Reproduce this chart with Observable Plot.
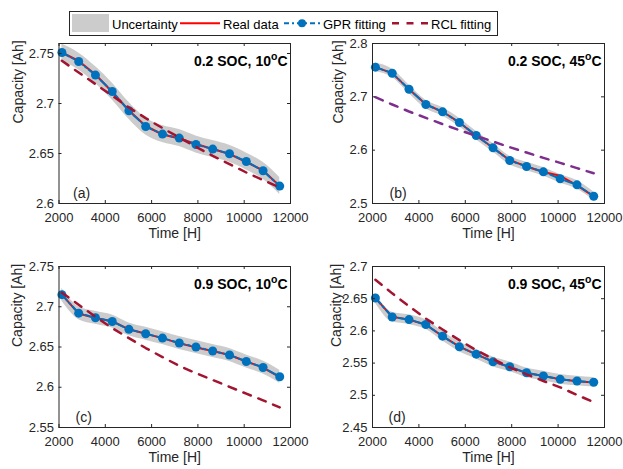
<!DOCTYPE html>
<html><head><meta charset="utf-8">
<script src="https://cdn.jsdelivr.net/npm/d3@7"></script>
<script src="https://cdn.jsdelivr.net/npm/@observablehq/plot@0.6"></script>
<style>
html,body{margin:0;padding:0;background:#fff;}
#wrap{position:relative;width:623px;height:469px;overflow:hidden;font-family:"Liberation Sans",Arial,sans-serif;}
.panel{position:absolute;}
</style></head><body>
<div id="wrap">
<svg id="legend" width="623" height="40" style="position:absolute;left:0;top:0" font-family="Liberation Sans, Arial, sans-serif" font-size="13" fill="#000">
<rect x="69.5" y="11.5" width="428" height="24" fill="#fff" stroke="#262626"/>
<rect x="72" y="14" width="37" height="18" fill="#cccccc"/>
<text x="112" y="28.5">Uncertainty</text>
<line x1="180" x2="220" y1="23.3" y2="23.3" stroke="#ff0000" stroke-width="2"/>
<text x="223" y="28.5">Real data</text>
<line x1="284" x2="321" y1="23.3" y2="23.3" stroke="#0072BD" stroke-width="2" stroke-dasharray="5,3,2,3"/>
<circle cx="302" cy="23.3" r="4" fill="#0072BD"/>
<text x="323" y="28.5">GPR fitting</text>
<line x1="392" x2="428" y1="23.3" y2="23.3" stroke="#A2142F" stroke-width="2.5" stroke-dasharray="7,7.5"/>
<text x="431" y="28.5">RCL fitting</text>
</svg>
</div>
<script>
const FONT = "'Liberation Sans', Arial, sans-serif";

// Time axis [H]
const time = [2125, 2850, 3575, 4300, 5020, 5745, 6470, 7195, 7915, 8640, 9365, 10090, 10815, 11535];
const xTicks = [2000, 4000, 6000, 8000, 10000, 12000];

// (a) 0.2 SOC, 10°C
const realA = [2.751, 2.7425, 2.729, 2.7115, 2.693, 2.6775, 2.669, 2.665, 2.6595, 2.6545, 2.6495, 2.6415, 2.633, 2.6175];
const gprA  = [2.751, 2.742, 2.7284, 2.712, 2.6927, 2.677, 2.6694, 2.6654, 2.659, 2.6544, 2.6497, 2.642, 2.6327, 2.6174];
const rclA  = [2.7427, 2.731, 2.7194, 2.7077, 2.696, 2.6854, 2.6754, 2.666, 2.6567, 2.6477, 2.6394, 2.631, 2.6234, 2.616];
const yTicksA = [2.6, 2.65, 2.7, 2.75];

// (b) 0.2 SOC, 45°C
const realB = [2.7556, 2.7445, 2.714, 2.686, 2.672, 2.652, 2.627, 2.6045, 2.581, 2.5695, 2.559, 2.552, 2.534, 2.5135];
const gprB  = [2.7556, 2.7443, 2.7143, 2.6856, 2.6719, 2.6519, 2.6275, 2.6044, 2.5806, 2.5694, 2.5594, 2.5463, 2.535, 2.5137];
const rclB  = [2.6993, 2.6856, 2.6725, 2.6606, 2.6488, 2.6375, 2.6269, 2.6162, 2.6056, 2.5956, 2.5856, 2.5762, 2.5663, 2.5568];
const yTicksB = [2.5, 2.6, 2.7, 2.8];

// (c) 0.9 SOC, 10°C
const realC = [2.715, 2.6915, 2.686, 2.682, 2.672, 2.6665, 2.661, 2.6545, 2.6495, 2.645, 2.64, 2.632, 2.6245, 2.6125];
const gprC  = [2.715, 2.692, 2.6863, 2.6817, 2.6719, 2.6665, 2.6611, 2.6549, 2.65, 2.6451, 2.6401, 2.632, 2.6246, 2.613];
const rclC  = [2.7175, 2.7025, 2.6875, 2.6735, 2.661, 2.6487, 2.6375, 2.6265, 2.6175, 2.609, 2.6005, 2.592, 2.5837, 2.575];
const yTicksC = [2.55, 2.6, 2.65, 2.7, 2.75];

// (d) 0.9 SOC, 45°C
const realD = [2.651, 2.622, 2.6175, 2.6095, 2.592, 2.5755, 2.5635, 2.5525, 2.544, 2.5345, 2.53, 2.525, 2.522, 2.52];
const gprD  = [2.651, 2.6216, 2.6176, 2.6099, 2.5918, 2.5752, 2.5639, 2.552, 2.5443, 2.535, 2.5299, 2.5248, 2.5222, 2.5202];
const rclD  = [2.6794, 2.6583, 2.6382, 2.6191, 2.6021, 2.5856, 2.5701, 2.5562, 2.5433, 2.5325, 2.5222, 2.5124, 2.5006, 2.4893];
const yTicksD = [2.45, 2.5, 2.55, 2.6, 2.65, 2.7];

// GPR uncertainty half-width [Ah]
const bandHalf = [0.0085, 0.008, 0.008, 0.0075];

const panels = [
  {tag:"(a)", title:"0.2 SOC, 10°C", real:realA, gpr:gprA, rcl:rclA, yTicks:yTicksA, yDomain:[2.6, 2.76], band:bandHalf[0], rclColor:"#A2142F",
   left:0, top:30, width:311, ml:58.5, mr:21, mt:13, innerH:160, mb:40, ylabOff:45.5, tagDx:14},
  {tag:"(b)", title:"0.2 SOC, 45°C", real:realB, gpr:gprB, rcl:rclB, yTicks:yTicksB, yDomain:[2.5, 2.8], band:bandHalf[1], rclColor:"#7E2F8E",
   left:311, top:30, width:312, ml:61, mr:19, mt:13, innerH:160, mb:40, ylabOff:39, tagDx:17},
  {tag:"(c)", title:"0.9 SOC, 10°C", real:realC, gpr:gprC, rcl:rclC, yTicks:yTicksC, yDomain:[2.55, 2.75], band:bandHalf[2], rclColor:"#A2142F",
   left:0, top:253, width:311, ml:58.5, mr:21, mt:13, innerH:161, mb:42, ylabOff:46.5, tagDx:16.5},
  {tag:"(d)", title:"0.9 SOC, 45°C", real:realD, gpr:gprD, rcl:rclD, yTicks:yTicksD, yDomain:[2.45, 2.7], band:bandHalf[3], rclColor:"#A2142F",
   left:311, top:253, width:312, ml:61, mr:19, mt:13, innerH:161, mb:42, ylabOff:41, tagDx:16}
];

const wrap = document.getElementById("wrap");
for (const p of panels) {
  const rows = time.map((t, i) => ({t, real: p.real[i], gpr: p.gpr[i], rcl: p.rcl[i], lo: p.gpr[i] - p.band, hi: p.gpr[i] + p.band}));
  const H = p.mt + p.innerH + p.mb;
  const innerW = p.width - p.ml - p.mr;
  const ax = "#262626";
  const svg = Plot.plot({
    width: p.width, height: H,
    marginLeft: p.ml, marginRight: p.mr, marginTop: p.mt, marginBottom: p.mb,
    style: {fontFamily: FONT, fontSize: "13px", color: ax, background: "transparent", overflow: "visible"},
    x: {domain: [2000, 12000], label: null},
    y: {domain: p.yDomain, label: null},
    marks: [
      Plot.areaY(rows, {x: "t", y1: "lo", y2: "hi", fill: "#cccccc", curve: "monotone-x"}),
      Plot.line(rows, {x: "t", y: "real", stroke: "#ff0000", strokeWidth: 2}),
      Plot.line(rows, {x: "t", y: "gpr", stroke: "#0072BD", strokeWidth: 2, strokeDasharray: "8,3,2,3"}),
      Plot.dot(rows, {x: "t", y: "gpr", r: 4.5, fill: "#0072BD"}),
      Plot.line(rows, {x: "t", y: "rcl", stroke: p.rclColor, strokeWidth: 2.5, strokeDasharray: "8,8"}),
      Plot.frame({stroke: ax}),
      Plot.tickX(xTicks, {x: d => d, stroke: ax, insetTop: p.innerH - 3}),
      Plot.tickX(xTicks, {x: d => d, stroke: ax, insetBottom: p.innerH - 3}),
      Plot.tickY(p.yTicks, {y: d => d, stroke: ax, insetRight: innerW - 3}),
      Plot.tickY(p.yTicks, {y: d => d, stroke: ax, insetLeft: innerW - 3}),
      Plot.axisX(xTicks, {tickSize: 0, tickPadding: 9, tickFormat: d => String(d), label: null}),
      Plot.axisY(p.yTicks, {tickSize: 0, tickPadding: 5, tickFormat: d => String(d), label: null}),
      Plot.text([p.title], {text: d => d, frameAnchor: "top-right", textAnchor: "end", lineAnchor: "top", dx: -3, dy: 13, fontWeight: "bold", fontSize: 14, fill: "#000"}),
      Plot.text([p.tag], {text: d => d, frameAnchor: "bottom-left", textAnchor: "start", lineAnchor: "top", dx: p.tagDx, dy: -15.5, fontSize: 14, fill: ax}),
      Plot.text(["Time [H]"], {text: d => d, frameAnchor: "bottom", lineAnchor: "top", dy: 25, fontSize: 14, fill: ax}),
      Plot.text(["Capacity [Ah]"], {text: d => d, frameAnchor: "left", rotate: -90, lineAnchor: "top", dx: -p.ylabOff, fontSize: 14, fill: ax})
    ]
  });
  // superscript "o" in °C titles
  svg.querySelectorAll("text").forEach(el => {
    const s = el.textContent;
    if (s.includes("°C")) {
      const base = s.replace("°C", "");
      el.textContent = "";
      const ns = "http://www.w3.org/2000/svg";
      const t1 = document.createElementNS(ns, "tspan"); t1.textContent = base;
      const t2 = document.createElementNS(ns, "tspan"); t2.textContent = "o"; t2.setAttribute("font-size", "10.5"); t2.setAttribute("dy", "-6");
      const t3 = document.createElementNS(ns, "tspan"); t3.textContent = "C"; t3.setAttribute("dy", "6");
      el.append(t1, t2, t3);
    }
  });
  svg.classList.add("panel");
  svg.style.left = p.left + "px";
  svg.style.top = p.top + "px";
  svg.style.position = "absolute";
  wrap.appendChild(svg);
}
</script>
</body></html>
